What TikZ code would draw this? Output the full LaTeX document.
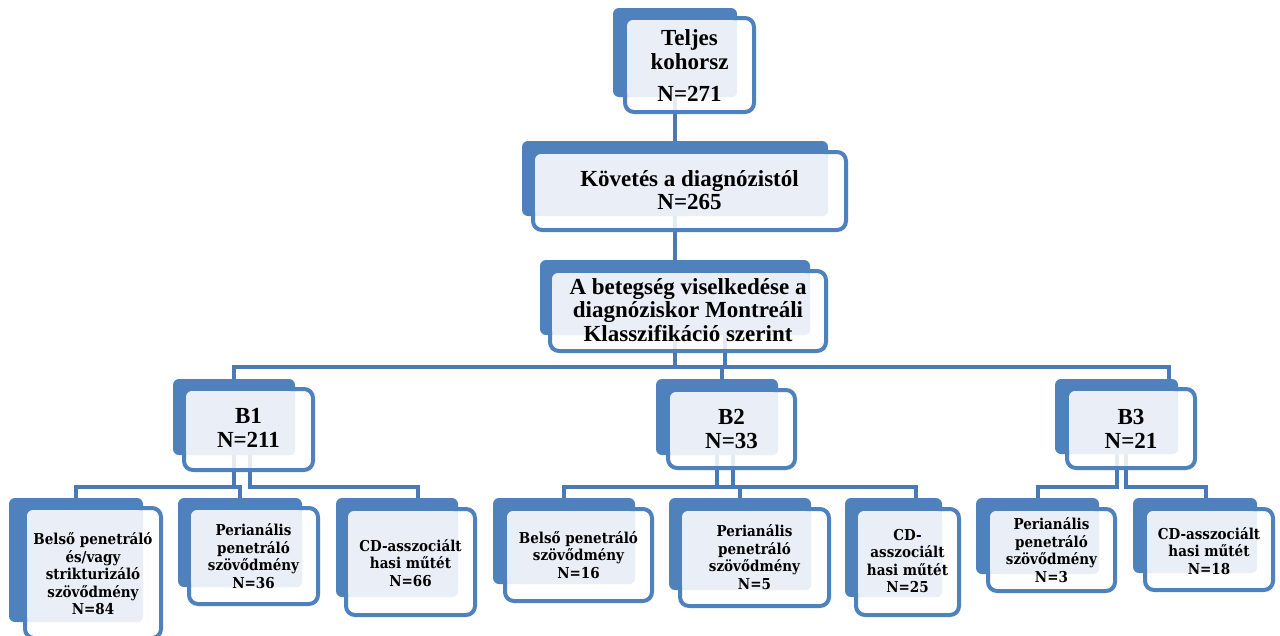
\documentclass[tikz,border=0pt]{standalone}
\usepackage{fontspec}
\setmainfont{Liberation Serif}
\newfontfamily\lowfont{DejaVu Serif Condensed}
\usetikzlibrary{calc}
\definecolor{sblue}{HTML}{4F81BD}
\definecolor{cblue}{HTML}{4A7AB5}
\definecolor{lfill}{HTML}{EAEFF7}
\tikzset{
 backbox/.style={rectangle, fill=sblue, rounded corners=6pt, inner sep=0pt, outer sep=0pt},
 frontbox/.style={rectangle, draw=sblue, line width=4pt, fill=white, fill opacity=0.85, rounded corners=9pt, inner sep=0pt, outer sep=0pt},
 lightrect/.style={fill=lfill, rounded corners=6pt},
 conn/.style={draw=cblue, line width=4pt},
 toptext/.style={font=\bfseries\fontsize{23}{23.5}\selectfont, align=center, inner sep=0pt},
 lowtext/.style={font=\lowfont\bfseries\fontsize{15}{17.5}\selectfont, align=center, inner sep=0pt},
}
\newcommand\mkback[5]{\node[backbox, minimum width={(#4)-(#2)}, minimum height={(#5)-(#3)}] (#1-b) at ({((#2)+(#4))/2},{((#3)+(#5))/2}) {};}
\newcommand\mkfront[5]{\node[frontbox, minimum width={(#4)-(#2)-4}, minimum height={(#5)-(#3)-4}] (#1-f) at ({((#2)+(#4))/2},{((#3)+(#5))/2}) {};
  \fill[lightrect] ($(#1-f.north west)+(2,2)$) rectangle (#1-b.south east);}
\begin{document}
\begin{tikzpicture}[x=1pt,y=-1pt]
\useasboundingbox (0,0) rectangle (1280,635);
% back boxes
\mkback{tel}{613}{8}{737}{97}
\mkback{kov}{522}{141}{828}{216}
\mkback{bet}{540}{260}{810}{335}
\mkback{ba}{173}{379}{295}{455}
\mkback{bb}{656}{379}{778}{455}
\mkback{bc}{1055}{379}{1178}{454}
\mkback{ca}{9}{498}{143}{622}
\mkback{cb}{178}{498}{302}{587}
\mkback{cc}{336}{498}{458}{597}
\mkback{cd}{493}{498}{635}{584}
\mkback{ce}{669}{498}{811}{590}
\mkback{cf}{845}{498}{942}{597}
\mkback{cg}{976}{498}{1099}{574}
\mkback{ch}{1133}{498}{1257}{573}
% junction coordinates
\coordinate (j1) at (455,367);
\coordinate (j2) at (723,367);
\coordinate (j3) at (900,367);
\coordinate (k1) at (150,487);
\coordinate (k2) at (330,487);
\coordinate (k4) at (640,487);
\coordinate (k6) at (820,487);
\coordinate (k7) at (1080,487);
\coordinate (k8) at (1160,487);
% connectors
\draw[conn] (tel-b.center) -- (kov-b.north);
\draw[conn] (kov-b.center) -- (bet-b.north);
\draw[conn] (bet-b.center) |- (j1) -| (ba-b.north);
\draw[conn] ($(bet-b.center)+(50,0)$) |- (j2) -| ($(bb-b.north)+(5,0)$);
\draw[conn] (bet-b.center) |- (j3) -| ($(bc-b.north)+(52,0)$);
\draw[conn] (ba-b.center) |- (k1) -| (ca-b.north);
\draw[conn] (k1) -| (cb-b.north);
\draw[conn] ($(ba-b.center)+(16,0)$) |- (k2) -| ($(cc-b.north)+(21,0)$);
\draw[conn] (bb-b.center) |- (k4) -| (cd-b.north);
\draw[conn] (k4) -| (ce-b.north);
\draw[conn] ($(bb-b.center)+(16,0)$) |- (k6) -| ($(cf-b.north)+(22,0)$);
\draw[conn] (bc-b.center) |- (k7) -| (cg-b.north);
\draw[conn] ($(bc-b.center)+(9,0)$) |- (k8) -| ($(ch-b.north)+(11,0)$);
% front boxes
\mkfront{tel}{623}{16}{756}{114}
\mkfront{kov}{531}{150}{848}{232}
\mkfront{bet}{548}{269}{828}{353}
\mkfront{ba}{182}{387}{315}{472}
\mkfront{bb}{666}{388}{797}{470}
\mkfront{bc}{1065}{387}{1197}{470}
\mkfront{ca}{23}{506}{163}{640}
\mkfront{cb}{187}{506}{320}{606}
\mkfront{cc}{344}{507}{477}{617}
\mkfront{cd}{503}{507}{654}{603}
\mkfront{ce}{678}{507}{831}{608}
\mkfront{cf}{854}{507}{961}{617}
\mkfront{cg}{986}{507}{1117}{593}
\mkfront{ch}{1143}{507}{1275}{592}
% texts
\node[toptext] (tel-t) at (689.5,66) {Teljes\\kohorsz\\[9pt]N=271};
\node[toptext] (kov-t) at (689.5,190) {Követés a diagnózistól\\N=265};
\node[toptext] (bet-t) at (688,310) {A betegség viselkedése a\\diagnóziskor Montreáli\\Klasszifikáció szerint};
\node[toptext] (ba-t) at (248.5,428) {B1\\N=211};
\node[toptext] (bb-t) at (731.5,429) {B2\\N=33};
\node[toptext] (bc-t) at (1131,429) {B3\\N=21};
\node[lowtext] (ca-t) at (93,574) {Belső penetráló\\és/vagy\\strikturizáló\\szövődmény\\N=84};
\node[lowtext] (cb-t) at (253.5,556) {Perianális\\penetráló\\szövődmény\\N=36};
\node[lowtext] (cc-t) at (410.5,563) {CD-asszociált\\hasi műtét\\N=66};
\node[lowtext] (cd-t) at (578.5,555) {Belső penetráló\\szövődmény\\N=16};
\node[lowtext] (ce-t) at (754.5,557) {Perianális\\penetráló\\szövődmény\\N=5};
\node[lowtext] (cf-t) at (907.5,561) {CD-\\asszociált\\hasi műtét\\N=25};
\node[lowtext] (cg-t) at (1051.5,550) {Perianális\\penetráló\\szövődmény\\N=3};
\node[lowtext] (ch-t) at (1209,551) {CD-asszociált\\hasi műtét\\N=18};
\end{tikzpicture}
\end{document}
